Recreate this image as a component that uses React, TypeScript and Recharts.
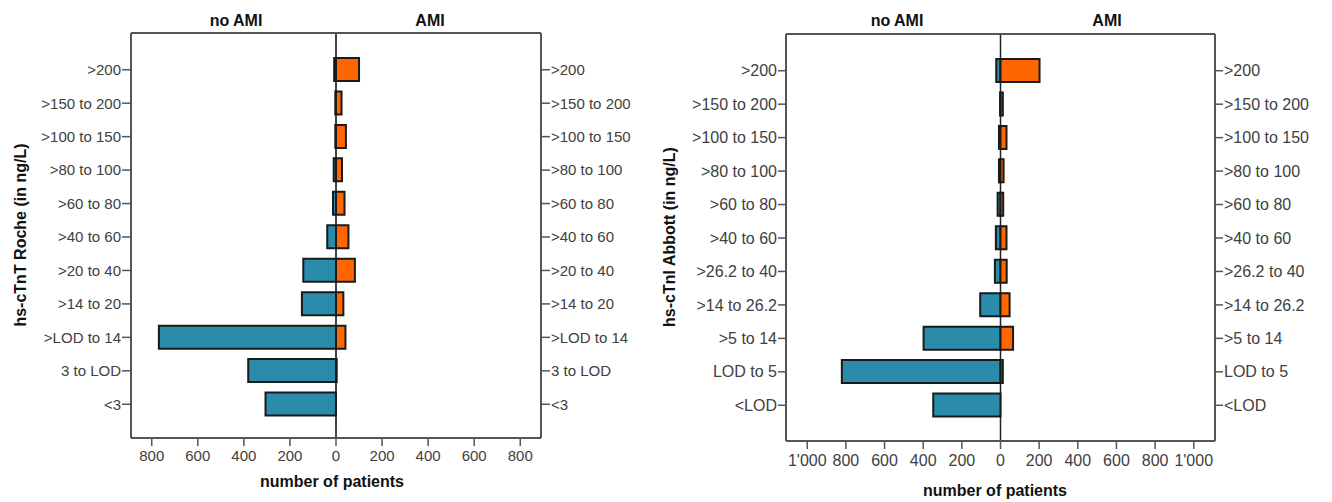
import React from 'react';
import { BarChart, Bar, XAxis, YAxis, CartesianGrid } from 'recharts';

const tntCategories = ['>200', '>150 to 200', '>100 to 150', '>80 to 100', '>60 to 80', '>40 to 60', '>20 to 40', '>14 to 20', '>LOD to 14', '3 to LOD', '<3'];
const tntNoAmi = [8, 3, 3, 10, 13, 38, 142, 148, 769, 381, 306];
const tntAmi = [100, 24, 43, 26, 37, 54, 82, 32, 41, 3, 0];
const tntTicks = [-800, -600, -400, -200, 0, 200, 400, 600, 800];
const tntDomain = [-890, 890];

const tniCategories = ['>200', '>150 to 200', '>100 to 150', '>80 to 100', '>60 to 80', '>40 to 60', '>26.2 to 40', '>14 to 26.2', '>5 to 14', 'LOD to 5', '<LOD'];
const tniNoAmi = [22, 2, 8, 8, 15, 24, 29, 105, 398, 821, 348];
const tniAmi = [202, 12, 31, 16, 14, 31, 32, 47, 65, 12, 0];
const tniTicks = [-1000, -800, -600, -400, -200, 0, 200, 400, 600, 800, 1000];
const tniDomain = [-1110, 1110];

const FONT = '"Liberation Sans", Arial, Helvetica, sans-serif';
const BLUE = '#2a8bab';
const ORANGE = '#ff6600';
const EDGE = '#1a1a1a';
const FRAME = '#555555';
const TEXT = '#404040';

function buildRows(cats: string[], noAmi: number[], ami: number[]) {
  return cats.map((c, i) => ({ cat: c, noAmi: -noAmi[i], ami: ami[i] }));
}

function fmt(v: number) {
  const a = Math.abs(v);
  if (a >= 1000) {
    const s = String(a);
    return s.slice(0, s.length - 3) + "'" + s.slice(s.length - 3);
  }
  return String(a);
}

type PanelProps = {
  left: number;
  width: number;
  top: number;
  xAxisHeight: number;
  leftAxisWidth: number;
  rightAxisWidth: number;
  padTop: number;
  padBottom: number;
  rows: any[];
  domain: number[];
  ticks: number[];
  fontSize: number;
  xTickSize: number;
  xTickMargin: number;
  yTickSize: number;
  zeroWidth: number;
  zeroColor: string;
};

function Panel(p: PanelProps) {
  const tickStyle = { fill: TEXT, fontSize: p.fontSize, fontFamily: FONT };
  return (
    <div style={{ position: 'absolute', left: p.left, top: 0 }}>
      <BarChart
        width={p.width}
        height={502}
        data={p.rows}
        layout="vertical"
        stackOffset="sign"
        barSize={23}
        margin={{ top: p.top - 1, right: 0, bottom: 0, left: 0 }}
      >
        <CartesianGrid horizontal={false} vertical verticalValues={[0]} stroke={p.zeroColor} strokeWidth={p.zeroWidth} />
        <XAxis
          type="number"
          domain={p.domain}
          ticks={p.ticks}
          allowDataOverflow
          height={p.xAxisHeight}
          tickFormatter={fmt}
          tick={tickStyle}
          tickSize={p.xTickSize}
          tickMargin={p.xTickMargin}
          axisLine={{ stroke: FRAME, strokeWidth: 2 }}
          tickLine={{ stroke: FRAME, strokeWidth: 1.5 }}
          interval={0}
        />
        <XAxis
          xAxisId="top"
          orientation="top"
          type="number"
          domain={p.domain}
          allowDataOverflow
          height={1}
          tick={false}
          tickLine={false}
          axisLine={{ stroke: FRAME, strokeWidth: 2 }}
        />
        <YAxis
          yAxisId="left"
          type="category"
          dataKey="cat"
          width={p.leftAxisWidth}
          padding={{ top: p.padTop, bottom: p.padBottom }}
          tick={tickStyle}
          tickSize={p.yTickSize}
          tickMargin={1}
          interval={0}
          axisLine={{ stroke: FRAME, strokeWidth: 2 }}
          tickLine={{ stroke: FRAME, strokeWidth: 1.5 }}
        />
        <YAxis
          yAxisId="right"
          orientation="right"
          type="category"
          dataKey="cat"
          width={p.rightAxisWidth}
          padding={{ top: p.padTop, bottom: p.padBottom }}
          tick={{ ...tickStyle, textAnchor: 'start' }}
          tickSize={p.yTickSize}
          tickMargin={1}
          interval={0}
          axisLine={{ stroke: FRAME, strokeWidth: 2 }}
          tickLine={{ stroke: FRAME, strokeWidth: 1.5 }}
        />
        <Bar dataKey="noAmi" stackId="s" yAxisId="left" fill={BLUE} stroke={EDGE} strokeWidth={2} isAnimationActive={false} />
        <Bar dataKey="ami" stackId="s" yAxisId="left" fill={ORANGE} stroke={EDGE} strokeWidth={2} isAnimationActive={false} />
      </BarChart>
    </div>
  );
}

function Label({ x, y, text, size = 16, rotate = false }: { x: number; y: number; text: string; size?: number; rotate?: boolean }) {
  return (
    <div
      style={{
        position: 'absolute',
        left: x,
        top: y,
        transform: `translate(-50%, -50%)${rotate ? ' rotate(-90deg)' : ''}`,
        whiteSpace: 'nowrap',
        fontFamily: FONT,
        fontWeight: 'bold',
        fontSize: size,
        color: '#111',
        lineHeight: 1,
      }}
    >
      {text}
    </div>
  );
}

export default function App() {
  const tntRows = buildRows(tntCategories, tntNoAmi, tntAmi);
  const tniRows = buildRows(tniCategories, tniNoAmi, tniAmi);
  return (
    <div style={{ position: 'absolute', left: 0, top: 0, width: 1332, height: 502, background: '#fff', overflow: 'hidden' }}>
      <Panel
        left={0}
        width={641}
        top={33}
        xAxisHeight={64}
        leftAxisWidth={131}
        rightAxisWidth={100}
        padTop={20}
        padBottom={17}
        rows={tntRows}
        domain={tntDomain}
        ticks={tntTicks}
        fontSize={15}
        xTickSize={8}
        xTickMargin={4}
        yTickSize={9}
        zeroWidth={2}
        zeroColor="#444"
      />
      <Panel
        left={650}
        width={682}
        top={34}
        xAxisHeight={61}
        leftAxisWidth={136}
        rightAxisWidth={117}
        padTop={20}
        padBottom={19}
        rows={tniRows}
        domain={tniDomain}
        ticks={tniTicks}
        fontSize={16}
        xTickSize={8}
        xTickMargin={6}
        yTickSize={8}
        zeroWidth={1.5}
        zeroColor="#222"
      />
      <Label x={236} y={20.5} text="no AMI" />
      <Label x={430} y={20.5} text="AMI" />
      <Label x={21} y={235} text="hs-cTnT Roche (in ng/L)" rotate />
      <Label x={332} y={482} text="number of patients" />
      <Label x={897} y={20.5} text="no AMI" />
      <Label x={1107} y={20.5} text="AMI" />
      <Label x={670} y={237} text="hs-cTnI Abbott (in ng/L)" rotate />
      <Label x={995} y={491} text="number of patients" />
    </div>
  );
}
